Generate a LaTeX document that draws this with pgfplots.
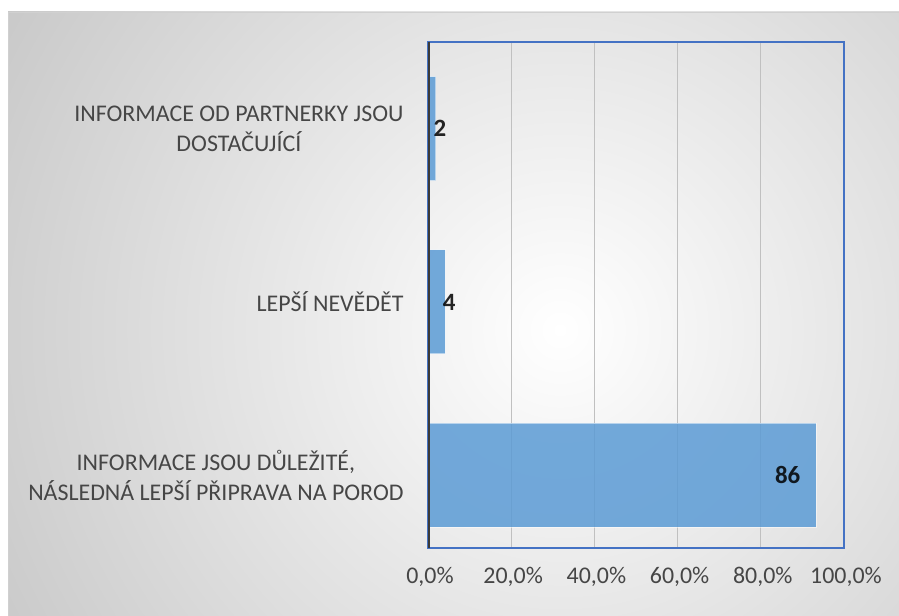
\documentclass[border=0pt]{standalone}
\usepackage{pgfplots}
\pgfplotsset{compat=1.18}
\usepackage{pgfplotstable}
\usepackage{fontspec}
\setmainfont{Carlito}

\definecolor{barblue}{HTML}{5B9BD5}
\definecolor{frameblue}{HTML}{4472C4}
\definecolor{txtgray}{HTML}{464646}
\definecolor{bgedge}{HTML}{C4C4C4}
\definecolor{gridgray}{HTML}{C0C0C0}
\definecolor{axisdark}{HTML}{3A3A3A}

% bar lengths as drawn, labels as printed
\pgfplotstableread{
y val lab
2 1.9 2
1 4.1 4
}\smallbars
\pgfplotstableread{
y val lab
0 93.3 86
}\bigbars

\begin{document}
\begin{tikzpicture}
\path[use as bounding box] (0bp,0bp) rectangle (899bp,616bp);
\fill[white] (0bp,0bp) rectangle (899bp,616bp);
\begin{scope}
  \clip (8bp,0bp) rectangle (899bp,604bp);
  \fill[bgedge] (8bp,0bp) rectangle (899bp,604bp);
  \shade[inner color=white, outer color=bgedge] (560bp,286bp) circle (700bp);
\end{scope}
\draw[color=bgedge!80!white, line width=0.8bp] (8bp,0bp) -- (8bp,604bp) -- (899bp,604bp);
\begin{axis}[
  at={(428bp,68bp)}, anchor=south west,
  scale only axis, width=416bp, height=506bp,
  xmin=0, xmax=100, ymin=-0.42, ymax=2.5,
  xbar, bar width=104bp, bar shift=0pt,
  xtick={0,20,40,60,80,100},
  xticklabels={{0,0\%},{20,0\%},{40,0\%},{60,0\%},{80,0\%},{100,0\%}},
  ytick={0,1,2},
  yticklabels={{INFORMACE JSOU DŮLEŽITÉ,\\NÁSLEDNÁ LEPŠÍ PŘIPRAVA NA POROD},
               {LEPŠÍ NEVĚDĚT},
               {INFORMACE OD PARTNERKY JSOU\\DOSTAČUJÍCÍ}},
  yticklabel style={align=center, font=\fontsize{24}{30}\selectfont,
                    text=txtgray, xshift=-21bp},
  xticklabel style={font=\fontsize{24}{28}\selectfont, text=txtgray, yshift=-16bp, xshift=2bp},
  major tick length=0,
  xmajorgrids, grid style={color=gridgray, line width=0.9bp},
  axis line style={draw=frameblue, line width=1.6bp},
  point meta=explicit symbolic,
  nodes near coords,
  every node near coord/.append style={font=\fontsize{25}{28}\selectfont\bfseries, text=black},
]
\addplot[fill=barblue, fill opacity=0.85, draw=white, draw opacity=0.5, line width=1bp,
  nodes near coords align={anchor=west}, every node near coord/.append style={xshift=-6bp}]
  table[x=val, y=y, meta=lab] {\smallbars};
\addplot[fill=barblue, fill opacity=0.85, draw=white, draw opacity=0.5, line width=1bp,
  every node near coord/.append style={anchor=east, xshift=-12bp}]
  table[x=val, y=y, meta=lab] {\bigbars};
\draw[axisdark, line width=3bp] (rel axis cs:0,0) -- (rel axis cs:0,1);
\end{axis}
\end{tikzpicture}
\end{document}
